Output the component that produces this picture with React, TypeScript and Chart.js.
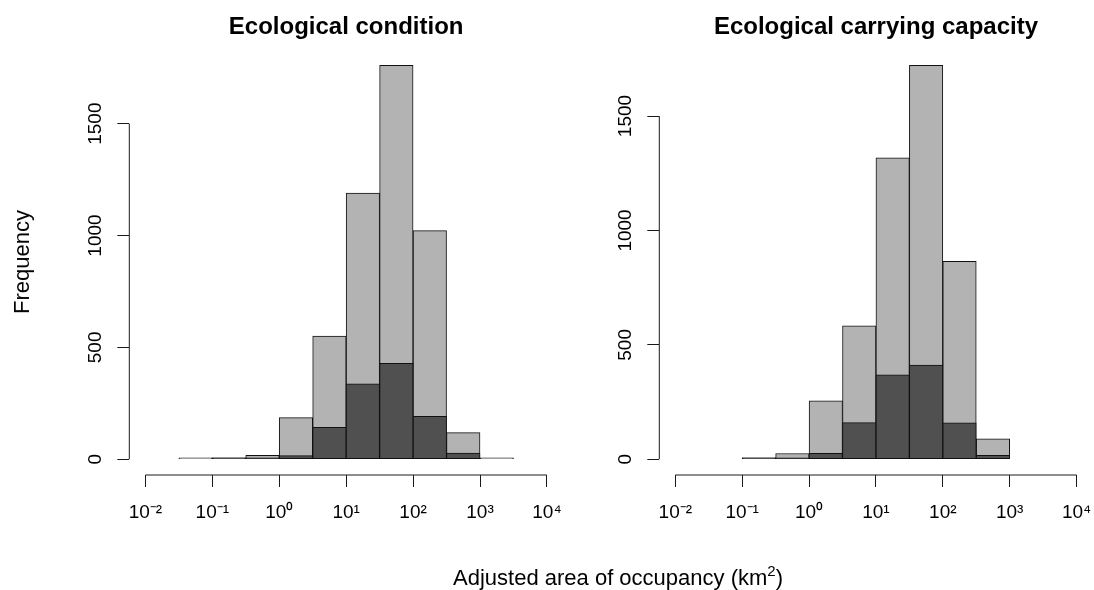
import React, { useEffect, useRef } from "react";
import { Chart, registerables } from "chart.js";

Chart.register(...registerables);

// log10 tick positions on the x axis and their labels
const tickExponents = [-2, -1, 0, 1, 2, 3, 4];
const tickLabels = ["10⁻²", "10⁻¹", "10⁰", "10¹", "10²", "10³", "10⁴"];
const yTicks = [0, 500, 1000, 1500];

// Lower edges (log10 km²) of the half-decade histogram bins
const conditionBinStarts = [-1.5, -1, -0.5, 0, 0.5, 1, 1.5, 2, 2.5, 3];
const conditionAll = [1, 2, 18, 186, 551, 1190, 1761, 1022, 119, 1];
const conditionSubset = [null, 1, 3, 16, 143, 337, 429, 192, 28, null];

const capacityBinStarts = [-1, -0.5, 0, 0.5, 1, 1.5, 2, 2.5];
const capacityAll = [2, 25, 255, 583, 1317, 1722, 865, 89];
const capacitySubset = [1, 2, 26, 160, 369, 412, 159, 17];

const binWidth = 0.5;

const FONT = '"Liberation Sans", Arial, Helvetica, sans-serif';

const rAxesPlugin = {
  id: "rAxes",
  afterDraw(chart: any) {
    const { ctx, chartArea, scales } = chart;
    const x = scales.x;
    const y = scales.y;
    ctx.save();
    ctx.strokeStyle = "#1a1a1a";
    ctx.lineWidth = 1;
    ctx.beginPath();
    const x0 = x.getPixelForValue(tickExponents[0]);
    const x1 = x.getPixelForValue(tickExponents[tickExponents.length - 1]);
    ctx.moveTo(x0, chartArea.bottom);
    ctx.lineTo(x1, chartArea.bottom);
    const y0 = y.getPixelForValue(yTicks[0]);
    const y1 = y.getPixelForValue(yTicks[yTicks.length - 1]);
    ctx.moveTo(chartArea.left, y0);
    ctx.lineTo(chartArea.left, y1);
    ctx.stroke();
    ctx.restore();
  },
};

function toPoints(starts: number[], vals: (number | null)[]) {
  return starts.map((s, i) => ({ x: s + binWidth / 2, y: vals[i] }));
}

type PanelProps = {
  title: string;
  starts: number[];
  all: number[];
  subset: (number | null)[];
  left: number;
  width: number;
  yAxisWidth: number;
  padRight: number;
};

function Panel({ title, starts, all, subset, left, width, yAxisWidth, padRight }: PanelProps) {
  const ref = useRef<HTMLCanvasElement | null>(null);
  useEffect(() => {
    if (!ref.current) return;
    const maxVal = Math.max(...all);
    const span = tickExponents[tickExponents.length - 1] - tickExponents[0];
    const barCommon = {
      borderColor: "#111111",
      borderWidth: 1,
      borderSkipped: false,
      grouped: false,
      barPercentage: 1,
      categoryPercentage: 1,
      minBarLength: 1.5,
    };
    const tickFont = { family: FONT, size: 19 };
    const chart = new Chart(ref.current, {
      type: "bar",
      data: {
        datasets: [
          {
            label: "subset",
            data: toPoints(starts, subset) as any,
            backgroundColor: "#505050",
            order: 0,
            ...barCommon,
          } as any,
          {
            label: "all",
            data: toPoints(starts, all) as any,
            backgroundColor: "#b3b3b3",
            order: 1,
            ...barCommon,
          } as any,
        ],
      },
      options: {
        animation: false,
        responsive: false,
        maintainAspectRatio: false,
        layout: { padding: { left: 0, right: padRight, top: 0, bottom: 0 } },
        plugins: {
          legend: { display: false },
          tooltip: { enabled: false },
          title: {
            display: true,
            text: title,
            fullSize: false,
            color: "#000",
            font: { family: FONT, size: 24, weight: "bold" },
            padding: { top: 12.6, bottom: 8.1 },
          },
        },
        scales: {
          x: {
            type: "linear",
            min: tickExponents[0] - 0.04 * span,
            max: tickExponents[tickExponents.length - 1] + 0.04 * span,
            offset: false,
            border: { display: false },
            grid: {
              display: true,
              drawOnChartArea: false,
              drawTicks: true,
              tickLength: 12,
              color: "#1a1a1a",
              offset: false,
              lineWidth: 1,
            },
            afterBuildTicks: (s: any) => {
              s.ticks = tickExponents.map((v) => ({ value: v }));
            },
            afterFit: (s: any) => {
              s.height = 115;
              s.paddingLeft = 0;
              s.paddingRight = 0;
            },
            ticks: {
              autoSkip: false,
              maxRotation: 0,
              minRotation: 0,
              padding: 14,
              color: "#000",
              font: tickFont,
              callback: (v: any) => {
                const i = tickExponents.indexOf(Number(v));
                return i >= 0 ? tickLabels[i] : "";
              },
            },
          } as any,
          y: {
            type: "linear",
            min: -0.04 * maxVal,
            max: 1.04 * maxVal,
            border: { display: false },
            grid: {
              display: true,
              drawOnChartArea: false,
              drawTicks: true,
              tickLength: 12,
              color: "#1a1a1a",
              lineWidth: 1,
            },
            afterBuildTicks: (s: any) => {
              s.ticks = yTicks.map((v) => ({ value: v }));
            },
            afterFit: (s: any) => {
              s.width = yAxisWidth;
              s.paddingTop = 0;
              s.paddingBottom = 0;
            },
            ticks: {
              minRotation: 90,
              maxRotation: 90,
              crossAlign: "center",
              padding: 0,
              color: "#000",
              font: tickFont,
              autoSkip: false,
              callback: (v: any) => String(v),
            },
          } as any,
        },
      },
      plugins: [rAxesPlugin],
    });
    return () => chart.destroy();
  }, []);
  return (
    <canvas
      ref={ref}
      width={width}
      height={590}
      style={{ position: "absolute", left, top: 0, width, height: 590 }}
    />
  );
}

export default function App() {
  return (
    <div
      style={{
        position: "fixed",
        left: 0,
        top: 0,
        width: 1094,
        height: 590,
        background: "#fff",
        overflow: "hidden",
        fontFamily: FONT,
      }}
    >
      <Panel
        title="Ecological condition"
        starts={conditionBinStarts}
        all={conditionAll}
        subset={conditionSubset}
        left={0}
        width={590}
        yAxisWidth={129.3}
        padRight={27}
      />
      <Panel
        title="Ecological carrying capacity"
        starts={capacityBinStarts}
        all={capacityAll}
        subset={capacitySubset}
        left={590}
        width={504}
        yAxisWidth={69.3}
        padRight={1.4}
      />
      <div
        style={{
          position: "absolute",
          left: 22,
          top: 262,
          transform: "translate(-50%, -50%) rotate(-90deg)",
          fontSize: 22,
          whiteSpace: "nowrap",
          color: "#000",
        }}
      >
        Frequency
      </div>
      <div
        style={{
          position: "absolute",
          left: 618,
          top: 578,
          transform: "translate(-50%, -50%)",
          fontSize: 22,
          whiteSpace: "nowrap",
          color: "#000",
          lineHeight: "24px",
        }}
      >
        Adjusted area of occupancy (km<sup style={{ fontSize: 15, verticalAlign: "9px", lineHeight: 0 }}>2</sup>)
      </div>
    </div>
  );
}
